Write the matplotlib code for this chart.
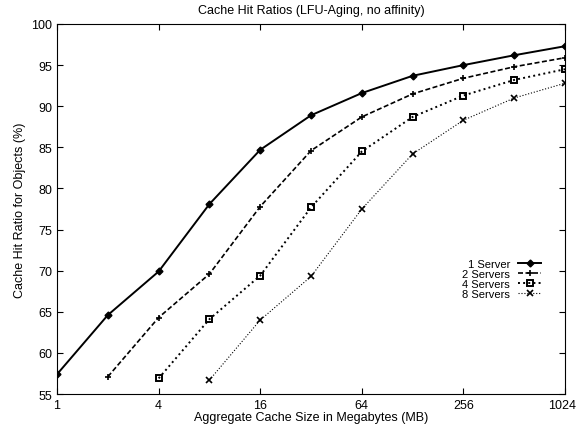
import numpy as np
import matplotlib.pyplot as plt
from matplotlib.transforms import ScaledTranslation

sizes = [1, 2, 4, 8, 16, 32, 64, 128, 256, 512, 1024]
s1 = [57.4, 64.6, 69.9, 78.1, 84.7, 88.9, 91.6, 93.7, 95.0, 96.2, 97.3]
s2 = [57.1, 64.3, 69.6, 77.8, 84.6, 88.7, 91.5, 93.4, 94.8, 95.9]
s4 = [56.9, 64.1, 69.4, 77.7, 84.5, 88.7, 91.3, 93.2, 94.5]
s8 = [56.7, 64.0, 69.3, 77.5, 84.2, 88.3, 91.0, 92.8]
labels = ['1 Server', '2 Servers', '4 Servers', '8 Servers']
xticks = [1, 4, 16, 64, 256, 1024]

plt.rcParams['font.family'] = ['Liberation Sans', 'DejaVu Sans']
fig = plt.figure(figsize=(5.76, 4.31), dpi=100)
ax = fig.add_axes([0.099, 0.0835, 0.882, 0.8585])

ax.plot(sizes, s1, '-', color='black', lw=1.4, marker='D', ms=3.5, label=labels[0])
ax.plot(sizes[1:], s2, '--', color='black', lw=1.2, marker='+', ms=4.5, mew=1.2,
        dashes=(3, 1.5), label=labels[1])
ax.plot(sizes[2:], s4, ':', color='black', lw=1.4, marker='s', ms=4.5, mfc='none',
        mew=1.4, label=labels[2])
ax.plot(sizes[3:], s8, ':', color='black', lw=0.8, marker='x', ms=4, mew=1.2,
        label=labels[3])

ax.set_xscale('log', base=2)
ax.set_xlim(1, 1024)
ax.set_ylim(55, 100)
ax.set_xticks(xticks)
ax.set_xticklabels([str(t) for t in xticks])
ax.minorticks_off()
ax.set_yticks(np.arange(55, 101, 5))
ax.tick_params(direction='in', top=True, right=True, labelsize=9, length=4)

# last tick label sits right-aligned against the figure edge
last = ax.get_xticklabels()[-1]
last.set_horizontalalignment('right')
last.set_transform(last.get_transform() + ScaledTranslation(0.11, 0, fig.dpi_scale_trans))

ax.set_xlabel('Aggregate Cache Size in Megabytes (MB)', fontsize=9, labelpad=0)
ax.set_ylabel('Cache Hit Ratio for Objects (%)', fontsize=9)
ax.set_title('Cache Hit Ratios (LFU-Aging, no affinity)', fontsize=9, pad=8)

ax.legend(loc='center right', bbox_to_anchor=(0.953, 0.31), frameon=False,
          markerfirst=False, fontsize=8, handlelength=2.1, labelspacing=0.0,
          handletextpad=0.7, borderaxespad=0, borderpad=0)

fig.savefig('out.png', dpi=100)
